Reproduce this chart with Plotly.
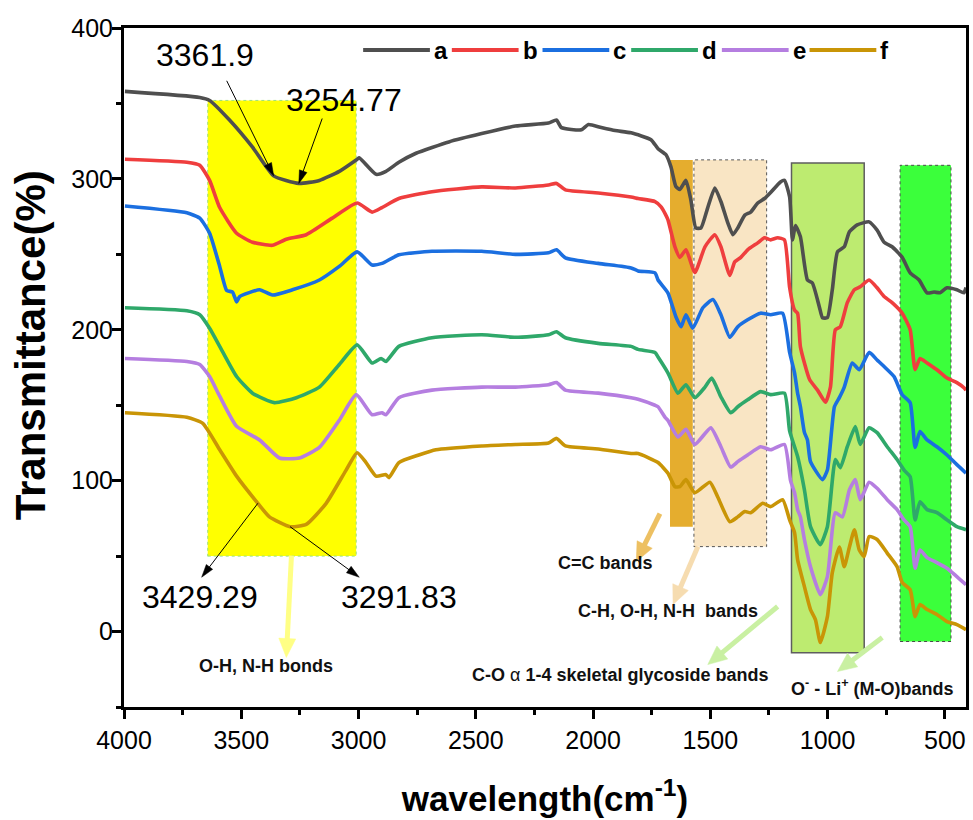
import math
import plotly.graph_objects as go

# ---- FTIR spectra: wavenumber (cm-1) vs transmittance (%) ----
wn_a = [3996, 3677, 3635, 3550, 3452, 3361.9, 3254.77, 3167, 3082, 3006, 2997, 2925, 2883, 2828, 2755,
        2615, 2475, 2331, 2190, 2156, 2135, 2050, 2020, 1965, 1906, 1838, 1753, 1723, 1689, 1668,
        1647, 1630, 1604, 1583, 1562, 1540, 1511, 1481, 1455, 1426, 1404, 1383, 1353, 1328, 1298,
        1269, 1243, 1201, 1184, 1162, 1150, 1137, 1116, 1086, 1065, 1035, 1022, 1001, 980, 958,
        929, 907, 874, 823, 789, 759, 725, 682, 648, 610, 576, 546, 521, 491, 449, 419, 410]
t_a = [358, 354, 352, 339, 321, 302, 297, 299, 305, 313, 314, 303, 305, 311, 317,
       324.5, 330, 335, 337, 339, 334, 332.5, 336, 334, 332, 330.5, 326, 320, 316, 308,
       295, 293, 299, 286, 267.5, 267.5, 281, 294, 285, 271, 263, 267.5, 276, 278, 284,
       287, 291, 298, 299, 288, 259.6, 269, 261.6, 233, 231, 215, 208, 208, 226.5, 251.6,
       255, 265, 269.5, 271.5, 266, 258, 255, 248, 237.7, 233, 224.5, 225, 224.5, 227.8, 226.5, 224.5, 228]

wn_b = [3996, 3732, 3677, 3635, 3592, 3520, 3452, 3367, 3308, 3223, 3112, 3006, 2942, 2900, 2828,
        2687, 2475, 2331, 2190, 2156, 2118, 1978, 1838, 1808, 1736, 1710, 1693, 1681, 1651, 1630,
        1604, 1566, 1523, 1481, 1455, 1417, 1396, 1370, 1341, 1298, 1269, 1243, 1213, 1184, 1162,
        1141, 1128, 1116, 1077, 1043, 1009, 988, 967, 946, 916, 886, 861, 823, 789, 759,
        725, 682, 648, 627, 606, 576, 534, 491, 449, 419, 410]
t_b = [313, 311, 309, 299, 281, 264, 258, 256, 260, 263, 274, 284, 278, 281, 287,
       291.5, 294.7, 294, 296, 297, 292.7, 290.7, 288, 287, 285, 281.5, 277, 273, 255, 248,
       253, 238, 255, 263, 255, 236, 245, 248, 253, 257.6, 261, 259.6, 261, 259.6, 228,
       213, 211, 188.7, 167, 160, 152, 162, 200, 202, 218, 226.5, 228.5, 233, 227.8, 222,
       218, 211, 200, 173.5, 181, 178, 173.5, 168, 165, 161.6, 160]

wn_c = [3996, 3732, 3677, 3635, 3592, 3562, 3537, 3520, 3507, 3422, 3367, 3282, 3167, 3082, 3006,
        2942, 2900, 2828, 2687, 2475, 2331, 2190, 2156, 2118, 1978, 1838, 1808, 1736, 1723, 1681,
        1647, 1625, 1604, 1575, 1532, 1489, 1455, 1417, 1383, 1341, 1286, 1243, 1192, 1162, 1141,
        1128, 1116, 1099, 1086, 1073, 1022, 1001, 971, 950, 929, 895, 865, 823, 789, 755,
        717, 682, 648, 627, 606, 576, 534, 491, 449, 410]
t_c = [282, 277.5, 274, 264, 242, 226, 225, 218.5, 222, 226.5, 223, 226.5, 233, 242, 251.6,
       243, 244, 249.7, 252, 252, 250, 251, 253, 247.7, 244, 241, 239, 237.7, 233, 224.5,
       208.6, 202, 210, 201, 214.6, 220, 210, 195, 202, 206.6, 211, 210, 211, 185, 171.5,
       158, 149, 132, 127, 112.6, 100.7, 107, 149, 155, 162, 178, 173.5, 185, 180, 175,
       169, 157, 151.7, 122, 132.5, 127, 122.5, 117, 110.6, 105]

wn_d = [3996, 3732, 3677, 3635, 3592, 3520, 3452, 3359, 3265, 3167, 3082, 3006, 2942, 2904, 2883,
        2828, 2687, 2475, 2331, 2190, 2156, 2118, 1978, 1838, 1808, 1736, 1723, 1681, 1638, 1604,
        1566, 1523, 1494, 1455, 1413, 1383, 1341, 1286, 1243, 1184, 1162, 1128, 1099, 1073, 1031,
        1001, 967, 946, 916, 882, 861, 823, 789, 746, 704, 674, 648, 627, 606, 576,
        534, 491, 449, 410]
t_d = [214.6, 212.6, 210, 201, 189, 169, 158, 151.7, 155, 162, 177, 190, 178, 181, 179,
       189, 194.7, 196.7, 195, 196.7, 198.7, 194.7, 191, 189, 187, 185, 182, 171.5, 158, 163.6,
       155, 162, 168, 155.6, 145, 149, 153.6, 159, 157, 158, 133, 116, 94, 69.5, 57.6,
       69.5, 114, 108.6, 122.5, 135.8, 124, 135, 131.8, 122.5, 114, 107, 102.6, 74, 86, 80.8,
       78.8, 74, 69.5, 67.5]

wn_e = [3996, 3732, 3677, 3635, 3592, 3520, 3422, 3337, 3252, 3167, 3082, 3010, 2942, 2900, 2883,
        2828, 2687, 2475, 2331, 2190, 2156, 2118, 1978, 1838, 1808, 1736, 1723, 1693, 1681, 1638,
        1604, 1566, 1498, 1455, 1413, 1383, 1341, 1286, 1243, 1184, 1158, 1141, 1128, 1116, 1099,
        1073, 1031, 1001, 967, 937, 907, 882, 861, 823, 789, 746, 704, 674, 648, 627,
        606, 576, 534, 491, 449, 410]
t_e = [181, 179, 177, 169, 156, 136, 127, 115, 115, 122, 140, 157, 143.7, 145, 143.7,
       155, 160, 162, 162, 163.6, 165, 160, 158, 155, 154, 150, 149, 142, 140, 129,
       134, 124, 135, 122.5, 109, 112.6, 117, 122.5, 120.5, 124, 100, 92, 80.8, 76, 61,
       43, 24.5, 36.4, 78.8, 76, 94, 100.7, 87.4, 99, 95, 87.4, 80.8, 74, 69.5, 42,
       54, 49, 45.7, 42, 36.4, 31]

wn_f = [3996, 3732, 3664, 3592, 3520, 3429.29, 3380, 3291.83, 3223, 3138, 3053, 3006, 2968, 2925, 2883,
        2870, 2828, 2743, 2670, 2475, 2331, 2190, 2156, 2118, 1978, 1838, 1808, 1723, 1681, 1651,
        1630, 1604, 1566, 1502, 1468, 1417, 1383, 1353, 1328, 1277, 1243, 1192, 1162, 1141, 1128,
        1099, 1073, 1052, 1031, 1001, 980, 950, 929, 907, 886, 865, 844, 823, 789, 746,
        704, 682, 648, 627, 606, 576, 534, 491, 449, 410]
t_f = [145, 142, 138, 120.5, 103, 85, 76, 69.5, 71, 85, 107, 118.5, 112, 103, 104,
       102, 112, 117, 120.5, 123, 124, 125, 128, 123, 121, 118, 118, 112, 105, 96,
       96, 100.7, 92, 99, 89, 72.8, 76, 79.5, 78.8, 85, 82.8, 87.4, 74, 65.6, 47.7,
       29.8, 14.6, 7.9, -7.3, 9.9, 39, 56, 43, 56, 67.5, 54, 49.7, 63, 61, 52,
       43, 32.5, 27.8, 9.9, 17.9, 14.6, 11.3, 6.6, 4.6, 1.3]

series_names = ["a", "b", "c", "d", "e", "f"]
series_colors = ["#4f4f4f", "#ef3e3e", "#1b6fe0", "#2fa86a", "#b57ee0", "#c99506"]
series_x = [wn_a, wn_b, wn_c, wn_d, wn_e, wn_f]
series_y = [t_a, t_b, t_c, t_d, t_e, t_f]

# marked band minima: (label, wavenumber, sample index)
peak_labels = [("3361.9", 3361.9, 0), ("3254.77", 3254.77, 0),
               ("3429.29", 3429.29, 5), ("3291.83", 3291.83, 5)]

# assignment regions: (x0, x1, y0, y1)
band_oh = (3643, 3010, 50, 352)
band_cc = (1672, 1575, 69.5, 312.6)
band_ch = (1570, 1260, 56.3, 312.6)
band_co = (1154, 844, -14, 310.6)
band_mo = (691, 474, -6.6, 309)

FONT = "Liberation Sans, Arial, sans-serif"
W, H = 973, 820
ML, MR, MT, MB = 124, 4, 28, 113
PW, PH = W - ML - MR, H - MT - MB
X_RANGE = (4000, 410)
Y_RANGE = (-50, 400)


def paper_x(px):
    return (px - ML) / PW


def paper_y(py):
    return 1 - (py - MT) / PH


def to_px(x, y):
    return (ML + (X_RANGE[0] - x) / (X_RANGE[0] - X_RANGE[1]) * PW,
            MT + (Y_RANGE[1] - y) / (Y_RANGE[1] - Y_RANGE[0]) * PH)


def to_data(px, py):
    return (X_RANGE[0] - (px - ML) / PW * (X_RANGE[0] - X_RANGE[1]),
            Y_RANGE[1] - (py - MT) / PH * (Y_RANGE[1] - Y_RANGE[0]))


def arrow_shapes(tail, head, color, width, head_len, head_w):
    """Shaft plus filled triangular head, built in screen space, stored in data units."""
    tx, ty = to_px(*tail)
    hx, hy = to_px(*head)
    L = math.hypot(hx - tx, hy - ty)
    ux, uy = (hx - tx) / L, (hy - ty) / L
    bx, by = hx - ux * head_len, hy - uy * head_len
    nx, ny = -uy, ux
    sx0, sy0 = to_data(tx, ty)
    sx1, sy1 = to_data(bx + ux * 1.0, by + uy * 1.0)
    p1 = to_data(bx + nx * head_w / 2, by + ny * head_w / 2)
    p2 = to_data(bx - nx * head_w / 2, by - ny * head_w / 2)
    tip = to_data(hx, hy)
    path = "M%.3f,%.3f L%.3f,%.3f L%.3f,%.3f Z" % (tip[0], tip[1], p1[0], p1[1], p2[0], p2[1])
    return [dict(type="line", xref="x", yref="y", x0=sx0, y0=sy0, x1=sx1, y1=sy1,
                 line=dict(color=color, width=width)),
            dict(type="path", xref="x", yref="y", path=path, fillcolor=color,
                 line=dict(color=color, width=0.5))]


fig = go.Figure()

for name, col, xs, ys in zip(series_names, series_colors, series_x, series_y):
    fig.add_trace(go.Scatter(x=xs, y=ys, mode="lines", name=name,
                             line=dict(color=col, width=3.6, shape="spline", smoothing=0.5),
                             showlegend=False))

shapes = []
# shaded assignment regions
shapes.append(dict(type="rect", x0=band_oh[0], x1=band_oh[1], y0=band_oh[2], y1=band_oh[3],
                   fillcolor="#ffff00", line=dict(color="#9be07a", width=1, dash="dot"), layer="below"))
shapes.append(dict(type="rect", x0=band_cc[0], x1=band_cc[1], y0=band_cc[2], y1=band_cc[3],
                   fillcolor="#e5ad2e", line=dict(width=0), layer="below"))
shapes.append(dict(type="rect", x0=band_ch[0], x1=band_ch[1], y0=band_ch[2], y1=band_ch[3],
                   fillcolor="#f9e5c4", line=dict(color="#555555", width=1, dash="dot"), layer="below"))
shapes.append(dict(type="rect", x0=band_co[0], x1=band_co[1], y0=band_co[2], y1=band_co[3],
                   fillcolor="#bdeb70", line=dict(color="#5e5e5e", width=1.5), layer="below"))
shapes.append(dict(type="rect", x0=band_mo[0], x1=band_mo[1], y0=band_mo[2], y1=band_mo[3],
                   fillcolor="#3bff3b", line=dict(color="#4a4a4a", width=1, dash="dot"), layer="below"))

# legend row drawn across the top of the plot
leg_line_x = [364, 453, 544, 633, 724, 812]
leg_py = 50
annotations = []
for i, (name, col) in enumerate(zip(series_names, series_colors)):
    x0 = leg_line_x[i]
    shapes.append(dict(type="line", xref="paper", yref="paper",
                       x0=paper_x(x0), x1=paper_x(x0 + 67), y0=paper_y(leg_py), y1=paper_y(leg_py),
                       line=dict(color=col, width=4)))
    annotations.append(dict(xref="paper", yref="paper", x=paper_x(x0 + 69), y=paper_y(leg_py),
                            xanchor="left", yanchor="middle", showarrow=False, text="<b>%s</b>" % name,
                            font=dict(family=FONT, size=24, color="black")))


def curve_value(idx, xv):
    xs, ys = series_x[idx], series_y[idx]
    for k in range(len(xs) - 1):
        if xs[k] >= xv >= xs[k + 1]:
            f = (xs[k] - xv) / (xs[k] - xs[k + 1])
            return ys[k] + f * (ys[k + 1] - ys[k])
    return ys[-1]


# peak labels: arrows point at curve a, or from curve f out to the label
label_pos = {"3361.9": (3656, 382), "3254.77": (3061, 352),
             "3429.29": (3677, 23), "3291.83": (2828, 23)}
arrow_end = {"3361.9": (3562, 365), "3254.77": (3155, 340),
             "3429.29": (3669, 36), "3291.83": (2997, 36)}
for text, wn, idx in peak_labels:
    yv = curve_value(idx, wn)
    ex, ey = arrow_end[text]
    if idx == 0:
        shapes += arrow_shapes((ex, ey), (wn, yv), "black", 1, 13, 8)
    else:
        shapes += arrow_shapes((wn, yv), (ex, ey), "black", 1, 13, 8)
    lx, ly = label_pos[text]
    annotations.append(dict(x=lx, y=ly, xref="x", yref="y", text=text, showarrow=False,
                            font=dict(family=FONT, size=32, color="black")))

# band assignment captions with pointer arrows
captions = [
    ("<b>O-H, N-H bonds</b>", 3393, -22.5, (3286, 50.3), (3308, -17.2), "#ffff85"),
    ("<b>C=C bands</b>", 1948, 45.7, (1715, 78.1), (1816, 46.4), "#edc062"),
    ("<b>C-H, O-H, N-H  bands</b>", 1681, 13.9, (1553, 56.3), (1659, 17.9), "#f6dcb0"),
    ("<b>C-O </b>\u03b1<b> 1-4 skeletal glycoside bands</b>", 1884, -28.5, (1213, 16.6), (1511, -21.9), "#c9f0a2"),
    ("<b>O<sup>-</sup> - Li<sup>+</sup> (M-O)bands</b>", 810, -37.1, (767, -4), (958, -26.5), "#c9f0a2"),
]
for text, cx, cy, tail, head, col in captions:
    shapes += arrow_shapes(tail, head, col, 5, 19, 17)
    annotations.append(dict(x=cx, y=cy, xref="x", yref="y", text=text, showarrow=False,
                            font=dict(family=FONT, size=18, color="#111111")))

# vertical axis title placed as rotated text
annotations.append(dict(xref="paper", yref="paper", x=paper_x(30), y=paper_y(345),
                        xanchor="center", yanchor="middle", textangle=-90, showarrow=False,
                        text="<b>Transmittance(%)</b>",
                        font=dict(family=FONT, size=42, color="black")))

axis_common = dict(showline=True, linewidth=3, linecolor="black", mirror=True,
                   ticks="outside", ticklen=9, tickwidth=2.5, tickcolor="black",
                   showgrid=False, zeroline=False,
                   tickfont=dict(family=FONT, size=25, color="black"))

fig.update_layout(
    width=W, height=H,
    margin=dict(l=ML, r=MR, t=MT, b=MB),
    paper_bgcolor="white", plot_bgcolor="white",
    shapes=shapes, annotations=annotations,
    xaxis=dict(range=list(X_RANGE), tickmode="linear", tick0=500, dtick=500,
               minor=dict(dtick=250, tick0=500, ticks="outside", ticklen=5, tickwidth=2.5, tickcolor="black"),
               title=dict(text="<b>wavelength(cm<sup>-1</sup>)</b>", standoff=34,
                          font=dict(family=FONT, size=35, color="black")),
               **axis_common),
    yaxis=dict(range=list(Y_RANGE), tickmode="linear", tick0=0, dtick=100,
               minor=dict(dtick=50, tick0=0, ticks="outside", ticklen=5, tickwidth=2.5, tickcolor="black"),
               ticklabelstandoff=-6,
               **axis_common),
    showlegend=False,
)

fig.write_html("out.html")
